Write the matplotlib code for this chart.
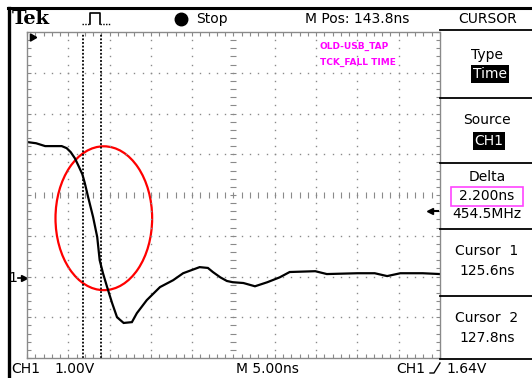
import numpy as np
import matplotlib
matplotlib.use('Agg')
import matplotlib.pyplot as plt
from matplotlib.patches import Ellipse, Rectangle
from matplotlib.lines import Line2D

# scope settings
T_DIV = 5.0        # ns / div
V_DIV = 1.0        # V / div
M_POS = 143.8      # ns at screen centre
V_CENTER = 2.04    # V at screen centre (ground marker sits 2.04 div below)
TRIG_LEVEL = 1.64
CURSOR_1 = 125.6
CURSOR_2 = 127.8

# CH1 trace (ns, V)
t_ns = [118.8, 119.9, 121.0, 123.0, 123.6, 124.1, 124.6, 125.0, 125.5, 125.8,
        126.2, 126.8, 127.3, 127.6, 128.0, 128.5, 129.1, 129.7, 130.5, 131.5,
        132.1, 133.3, 134.9, 136.5, 137.7, 139.7, 140.7, 141.3, 142.2, 143.0,
        143.7, 145.0, 146.4, 147.9, 149.4, 150.6, 153.7, 155.1, 158.8, 160.9,
        162.4, 164.0, 166.7, 168.8]
v_ch1 = [3.34, 3.31, 3.24, 3.24, 3.19, 3.09, 2.94, 2.77, 2.55, 2.33,
         1.99, 1.50, 1.01, 0.44, 0.12, -0.22, -0.61, -0.96, -1.10, -1.08,
         -0.86, -0.54, -0.22, -0.05, 0.12, 0.27, 0.25, 0.15, 0.02, -0.07,
         -0.10, -0.12, -0.20, -0.10, 0.02, 0.15, 0.17, 0.10, 0.12, 0.12,
         0.05, 0.12, 0.12, 0.10]

W, H = 532, 378
fig = plt.figure(figsize=(W / 100, H / 100), dpi=100)
fig.patch.set_facecolor('white')
FONT = ['Liberation Sans Narrow', 'DejaVu Sans']
GRAY = '#8a8a8a'


def P(x, y):
    return x / W, 1 - y / H


def fline(xs, ys, **kw):
    fx = [x / W for x in xs]
    fy = [1 - y / H for y in ys]
    fig.add_artist(Line2D(fx, fy, transform=fig.transFigure, **kw))


def ftext(x, y, s, **kw):
    kw.setdefault('family', FONT)
    kw.setdefault('fontsize', 10)
    kw.setdefault('va', 'center')
    fig.text(*P(x, y), s, **kw)


t0, t1 = M_POS - 5 * T_DIV, M_POS + 5 * T_DIV
v0, v1 = V_CENTER - 4 * V_DIV, V_CENTER + 4 * V_DIV

ax = fig.add_axes([27 / W, 1 - 358 / H, 413 / W, 326 / H])
ax.set_xlim(t0, t1)
ax.set_ylim(v0, v1)
for s in ax.spines.values():
    s.set_color(GRAY)
    s.set_linewidth(1.0)
    s.set_linestyle((0, (1, 1)))
ax.set_xticks(np.arange(t0, t1 + 0.01, T_DIV * 0.2))
ax.set_yticks(np.arange(v0, v1 + 0.01, V_DIV * 0.2))
ax.tick_params(which='both', direction='in', length=3, width=0.8, color=GRAY,
               top=True, right=True, labelbottom=False, labelleft=False)

# dotted graticule
for k in range(1, 10):
    x = t0 + k * T_DIV
    ys = v0 + np.arange(1, 40) * 0.2 * V_DIV
    if k == 5:
        ax.plot([x] * len(ys), ys, ls='none', marker='_', ms=4, mew=0.8, color=GRAY)
    else:
        ax.plot([x] * len(ys), ys, ls='none', marker='s', ms=1.0, mew=0, color=GRAY)
for k in range(1, 8):
    y = v0 + k * V_DIV
    xs = t0 + np.arange(1, 50) * 0.2 * T_DIV
    if k == 4:
        ax.plot(xs, [y] * len(xs), ls='none', marker='|', ms=4, mew=0.8, color=GRAY)
    else:
        ax.plot(xs, [y] * len(xs), ls='none', marker='s', ms=1.0, mew=0, color=GRAY)

# cursors
for c in (CURSOR_1, CURSOR_2):
    ax.axvline(c, color='black', lw=1.3, ls=(0, (1, 1)))

# trace
ax.plot(t_ns, v_ch1, color='black', lw=1.6, solid_joinstyle='miter')

# red highlight
ax.add_patch(Ellipse((128.1, 1.47), 11.7, 3.53, fill=False, edgecolor='red', lw=1.6))

# trigger position marker (top-left corner)
ax.plot([0.012], [0.985], marker=(3, 0, 30), ms=6, color='black',
        transform=ax.transAxes, clip_on=False)

# ground marker and trigger level arrow
yt = ax.get_yaxis_transform()
ax.text(-0.024, 0, '1', transform=yt, ha='right', va='center', fontsize=10, family=FONT)
ax.plot([-0.022, -0.008], [0, 0], color='black', lw=1.2, transform=yt, clip_on=False)
ax.plot([-0.008], [0], marker='>', ms=4, color='black', transform=yt, clip_on=False)
ax.plot([0.975, 0.995], [TRIG_LEVEL, TRIG_LEVEL], color='black', lw=1.5, transform=yt)
ax.plot([0.975], [TRIG_LEVEL], marker='<', ms=5, color='black', transform=yt)

# magenta labels
ax.text(0.709, 0.955, 'OLD-USB_TAP', transform=ax.transAxes, color='#ff00ff',
        fontsize=6.5, fontweight='bold', va='center')
ax.text(0.709, 0.908, 'TCK_FALL TIME', transform=ax.transAxes, color='#ff00ff',
        fontsize=6.5, fontweight='bold', va='center')

# frame
fline([8, W], [8, 8], color='black', lw=2.2)
fline([9, 9], [8, H], color='black', lw=2.4)
for y in (30, 98, 163, 229, 296, 359):
    fline([440, W], [y, y], color='black', lw=1.3)

# header
ftext(12, 19, 'Tek', family='DejaVu Serif', fontweight='bold', fontsize=14)
fline([82, 90], [24, 24], color='black', lw=1, ls=(0, (1, 1)))
fline([90, 90, 100, 100], [24, 13, 13, 24], color='black', lw=1.2)
fline([100, 110], [24, 24], color='black', lw=1, ls=(0, (1, 1)))
fig.add_artist(Line2D([181 / W], [1 - 19 / H], marker='o', ms=9, color='black',
                      transform=fig.transFigure))
ftext(196, 19, 'Stop')
ftext(357, 19, 'M Pos: 143.8ns', ha='center')
ftext(488, 19, 'CURSOR', ha='center')

# side menu
ftext(487, 55, 'Type', ha='center')
ftext(490, 74, 'Time', ha='center', color='white',
      bbox=dict(boxstyle='square,pad=0.12', fc='black', ec='none'))
ftext(487, 120, 'Source', ha='center')
ftext(489, 141, 'CH1', ha='center', color='white',
      bbox=dict(boxstyle='square,pad=0.12', fc='black', ec='none'))
ftext(487, 177, 'Delta', ha='center')
fig.add_artist(Rectangle(P(451, 206), 72 / W, 19 / H, fill=False, edgecolor='#ff44ff',
                         lw=1.2, transform=fig.transFigure))
ftext(487, 196, '2.200ns', ha='center')
ftext(487, 214, '454.5MHz', ha='center')
ftext(487, 251, 'Cursor  1', ha='center')
ftext(487, 271, '125.6ns', ha='center')
ftext(487, 318, 'Cursor  2', ha='center')
ftext(487, 338, '127.8ns', ha='center')

# footer
ftext(11, 369, 'CH1')
ftext(54, 369, '1.00V')
ftext(236, 369, 'M 5.00ns')
ftext(396, 369, 'CH1')
fline([430, 434, 440], [373, 373, 363], color='black', lw=1)
ftext(446, 369, '1.64V')

fig.savefig('out.png', dpi=100)
